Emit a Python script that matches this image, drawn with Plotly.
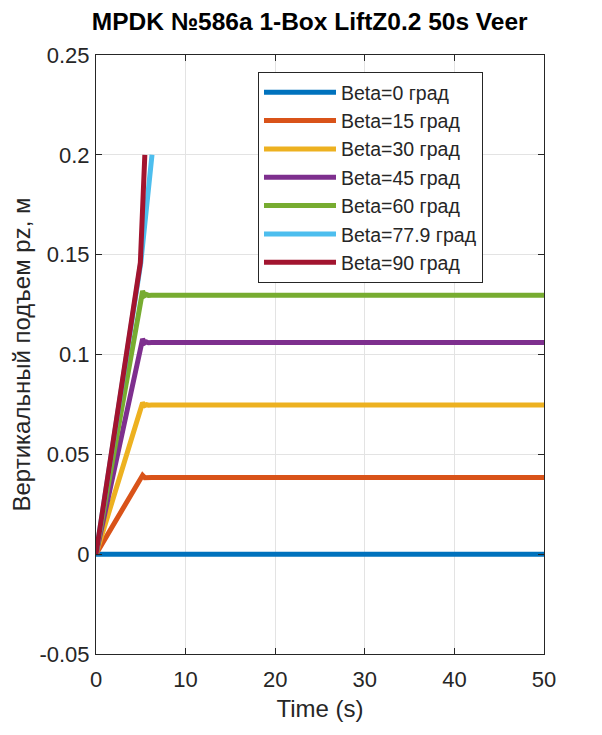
import plotly.graph_objects as go

# data
names = ['Beta=0 град', 'Beta=15 град', 'Beta=30 град', 'Beta=45 град',
         'Beta=60 град', 'Beta=77.9 град', 'Beta=90 град']
colors = ['#0072BD', '#D95319', '#EDB120', '#7E2F8E', '#77AC30', '#4DBEEE', '#A2142F']

t_flat = [0, 50]
beta0 = [0, 0]

t_settle = [0, 5.2, 5.45, 5.65, 5.85, 6.0, 6.2, 50]
beta15 = [0, 0.0395, 0.0383, 0.0385, 0.0384, 0.0385, 0.0384, 0.0384]
beta30 = [0, 0.0758, 0.0745, 0.0749, 0.0746, 0.0749, 0.0747, 0.0747]
beta45 = [0, 0.1078, 0.1058, 0.1063, 0.1059, 0.1062, 0.106, 0.106]
beta60 = [0, 0.1318, 0.1295, 0.1300, 0.1296, 0.1299, 0.1297, 0.1297]

t_779 = [0, 5.0, 6.25]
beta779 = [0, 0.146, 0.2]
t_90 = [0, 4.95, 5.45]
beta90 = [0, 0.146, 0.2]

xticks = [0, 10, 20, 30, 40, 50]
yticks = [-0.05, 0, 0.05, 0.1, 0.15, 0.2, 0.25]
yticklabels = ['-0.05', '0', '0.05', '0.1', '0.15', '0.2', '0.25']

series = [(t_flat, beta0), (t_settle, beta15), (t_settle, beta30), (t_settle, beta45),
          (t_settle, beta60), (t_779, beta779), (t_90, beta90)]

font = 'Liberation Sans, Arial, sans-serif'

fig = go.Figure()
for i, (tx, vy) in enumerate(series):
    fig.add_trace(go.Scatter(x=tx, y=vy, mode='lines', name=names[i],
                             legendgroup=str(i),
                             line=dict(color=colors[i], width=5)))

axis_style = dict(showline=True, linecolor='#262626', linewidth=1, mirror='ticks',
                  ticks='inside', ticklen=6, tickcolor='#262626', automargin=False,
                  showgrid=True, gridcolor='#e3e3e3', gridwidth=1, zeroline=False,
                  tickfont=dict(family=font, size=22, color='#262626'))

fig.update_xaxes(range=[0, 50], tickvals=xticks, ticklabelstandoff=6, **axis_style,
                 title=dict(text='Time (s)', font=dict(family=font, size=24, color='#262626'),
                            standoff=8))
fig.update_yaxes(range=[-0.05, 0.25], tickvals=yticks, ticktext=yticklabels,
                 ticklabelstandoff=1, **axis_style,
                 title=dict(text='Вертикальный подъем pz, м',
                            font=dict(family=font, size=24, color='#262626'), standoff=6))

# page body has an 8px margin, so the figure is 8px smaller than the window
fig.update_layout(
    width=594, height=727,
    margin=dict(l=88, r=58, t=47, b=81),
    paper_bgcolor='white', plot_bgcolor='white',
    title=dict(text='<b>MPDK №586a 1-Box LiftZ0.2 50s Veer</b>', x=0.508, xanchor='center',
               y=0.981, yanchor='middle', font=dict(family=font, size=24.5, color='black')),
    legend=dict(x=0.3616, y=0.9716, xanchor='left', yanchor='top',
                bgcolor='white', bordercolor='#262626', borderwidth=1,
                font=dict(family=font, size=19.5, color='#262626'),
                itemwidth=72, tracegroupgap=0, traceorder='grouped'),
    showlegend=True,
)

fig.write_html("out.html")
